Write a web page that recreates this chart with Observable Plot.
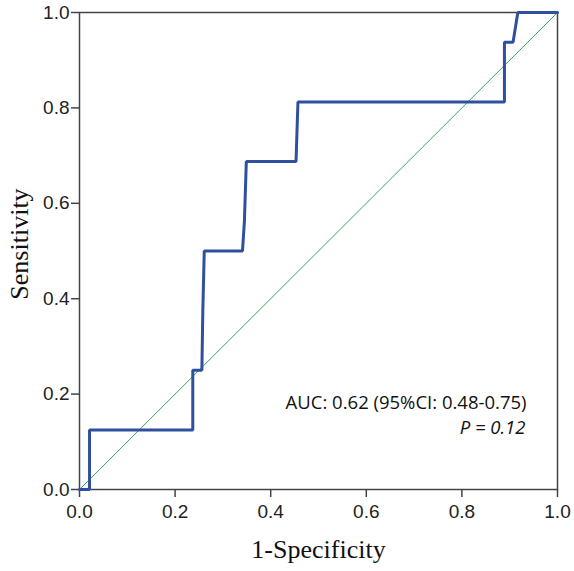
<!DOCTYPE html>
<html><head><meta charset="utf-8">
<script src="https://cdn.jsdelivr.net/npm/d3@7"></script>
<script src="https://cdn.jsdelivr.net/npm/@observablehq/plot@0.6"></script>
<style>body{margin:0;background:#fff}</style>
</head><body><div id="chart"></div>
<script>
// ROC curve points
const fpr = [0, 0.021, 0.021, 0.237, 0.237, 0.256, 0.258, 0.261, 0.341, 0.345, 0.349, 0.453, 0.457, 0.889, 0.889, 0.907, 0.917, 1];
const tpr = [0, 0, 0.125, 0.125, 0.25, 0.25, 0.375, 0.5, 0.5, 0.5625, 0.6875, 0.6875, 0.8125, 0.8125, 0.9375, 0.9375, 1, 1];
const diagX = [0, 1];
const diagY = [0, 1];
const tickValues = [0, 0.2, 0.4, 0.6, 0.8, 1.0];
const xTitle = "1-Specificity";
const yTitle = "Sensitivity";
const aucText = "AUC: 0.62 (95%CI: 0.48-0.75)";
const pText = "P = 0.12";

const roc = fpr.map((x, i) => ({x, y: tpr[i]}));
const diag = diagX.map((x, i) => ({x, y: diagY[i]}));

const sans = "'Open Sans', sans-serif";
const tickFont = "'Liberation Sans', Arial, sans-serif";
const serif = "'Liberation Serif', 'DejaVu Serif', serif";

const chart = Plot.plot({
  width: 574, height: 571,
  marginLeft: 79, marginRight: 17, marginTop: 12, marginBottom: 82,
  style: {fontFamily: sans, color: "#222", background: "#fff"},
  x: {domain: [0, 1]},
  y: {domain: [0, 1]},
  marks: [
    Plot.frame({stroke: "#444", strokeWidth: 1.5}),
    Plot.axisX({ticks: tickValues, tickFormat: d3.format(".1f"), tickSize: 8, tickPadding: 7, fontSize: 19, fontFamily: tickFont, label: null, stroke: "#444", strokeWidth: 1.5}),
    Plot.axisY({ticks: tickValues, tickFormat: d3.format(".1f"), tickSize: 8, tickPadding: 2, fontSize: 19, fontFamily: tickFont, label: null, stroke: "#444", strokeWidth: 1.5}),
    Plot.line(diag, {x: "x", y: "y", stroke: "#33a852", strokeWidth: 1}),
    Plot.line(roc, {x: "x", y: "y", stroke: "#2f4f9f", strokeWidth: 3, strokeLinejoin: "miter"}),
    Plot.text([xTitle], {frameAnchor: "bottom", dy: 68, fontFamily: serif, fontSize: 26, fill: "#111"}),
    Plot.text([yTitle], {frameAnchor: "left", textAnchor: "middle", dx: -60, dy: -7, rotate: -90, fontFamily: serif, fontSize: 26, fill: "#111"}),
    Plot.text([aucText], {frameAnchor: "bottom-right", dx: -31, dy: -81, textAnchor: "end", fontSize: 18.5, fill: "#111"}),
    Plot.text([pText], {frameAnchor: "bottom-right", dx: -32, dy: -56, textAnchor: "end", fontSize: 18.5, fontStyle: "italic", fill: "#111"})
  ]
});
document.getElementById("chart").append(chart);
</script>
</body></html>
